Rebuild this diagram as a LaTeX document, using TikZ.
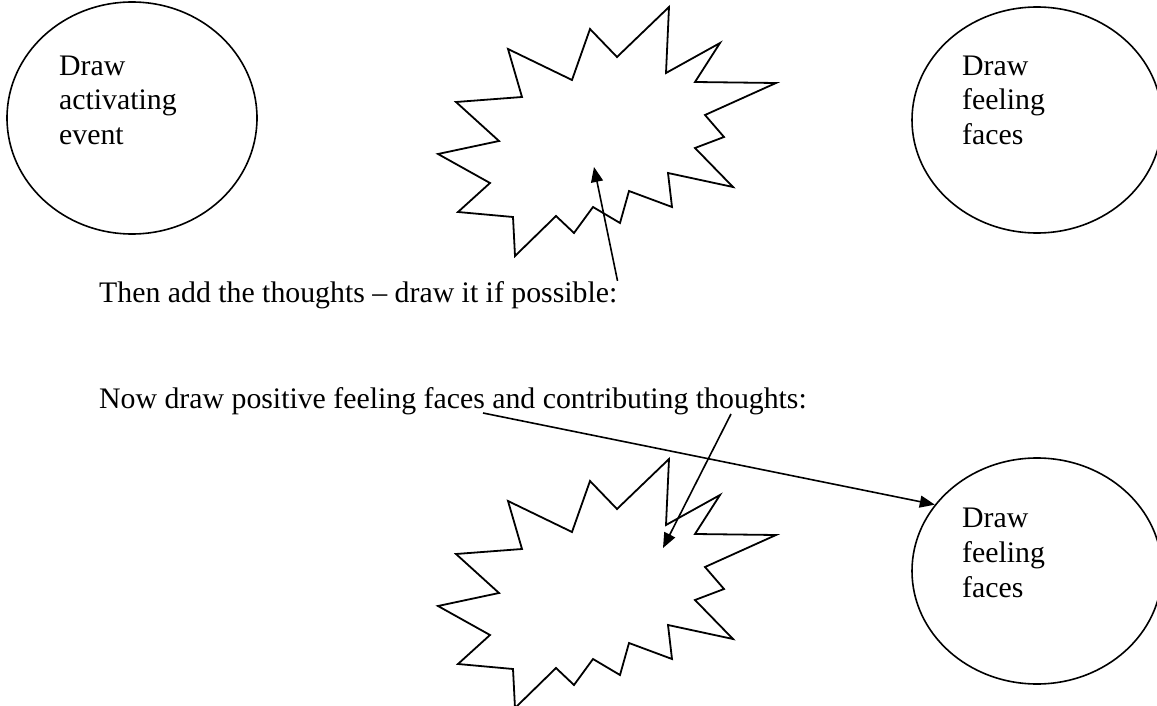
\documentclass[tikz,border=0pt]{standalone}
\usepackage{fontspec}
\setmainfont{Liberation Serif}
\usetikzlibrary{arrows.meta, shapes.geometric}

\begin{document}
\begin{tikzpicture}[
    x=1pt, y=-1pt,
    every node/.style={font=\fontsize{29.8pt}{35pt}\selectfont, inner sep=0pt},
    blob/.style={draw, ellipse, line width=1.6pt,
                 minimum width=250pt, minimum height=226pt},
    lbl/.style={anchor=base west, align=left},
    burst/.style={draw, line width=1.8pt},
    arrow/.style={-{Triangle[length=15pt, width=12pt]}, line width=1.6pt}
]
    \useasboundingbox (0,0) rectangle (1157,706);

    % event and feeling circles
    \node[blob, minimum height=232pt] (event) at (132,118) {};
    \node[blob] (feelA) at (1037,120) {};
    \node[blob] (feelB) at (1037,571) {};
    % (base of a multi-line node = its last line)
    \node[lbl] (eventtxt) at (59,145) {Draw\\activating\\event};
    \node[lbl] (feelAtxt) at (962,145) {Draw\\feeling\\faces};
    \node[lbl] (feelBtxt) at (962,597) {Draw\\feeling\\faces};

    % thought bubbles
    \foreach \by in {130,582}
        \draw[burst, shift={(600,\by)}]
            (69,-123) -- (66,-57) -- (120,-87) -- (95,-48) -- (176,-47)
            -- (105,-15) -- (124,7) -- (95,18) -- (133,57) -- (68,43)
            -- (72,77) -- (29,61) -- (20,93) -- (-7,77) -- (-26,103)
            -- (-44,86) -- (-85,126) -- (-87,87) -- (-142,82) -- (-110,53)
            -- (-162,24) -- (-101,11) -- (-144,-28) -- (-78,-33) -- (-92,-81)
            -- (-28,-50) -- (-10,-101) -- (17,-73) -- cycle;

    % instructions
    \node[lbl] (thentxt) at (99,302) {Then add the thoughts -- draw it if possible:};
    \node[lbl] (nowtxt) at (99,408)
        {Now draw positive feeling faces and contributing thoughts:};

    \coordinate (thinkA) at (594,167);
    \coordinate (thinkB) at (663,548);
    \coordinate (thoughtsend) at (731,414);
    \coordinate (facesend) at (483,413);

    \draw[arrow] (thentxt.north east) -- (thinkA);
    \draw[arrow] (thoughtsend) -- (thinkB);
    \draw[arrow] (facesend) -- (feelB.147);
\end{tikzpicture}
\end{document}
